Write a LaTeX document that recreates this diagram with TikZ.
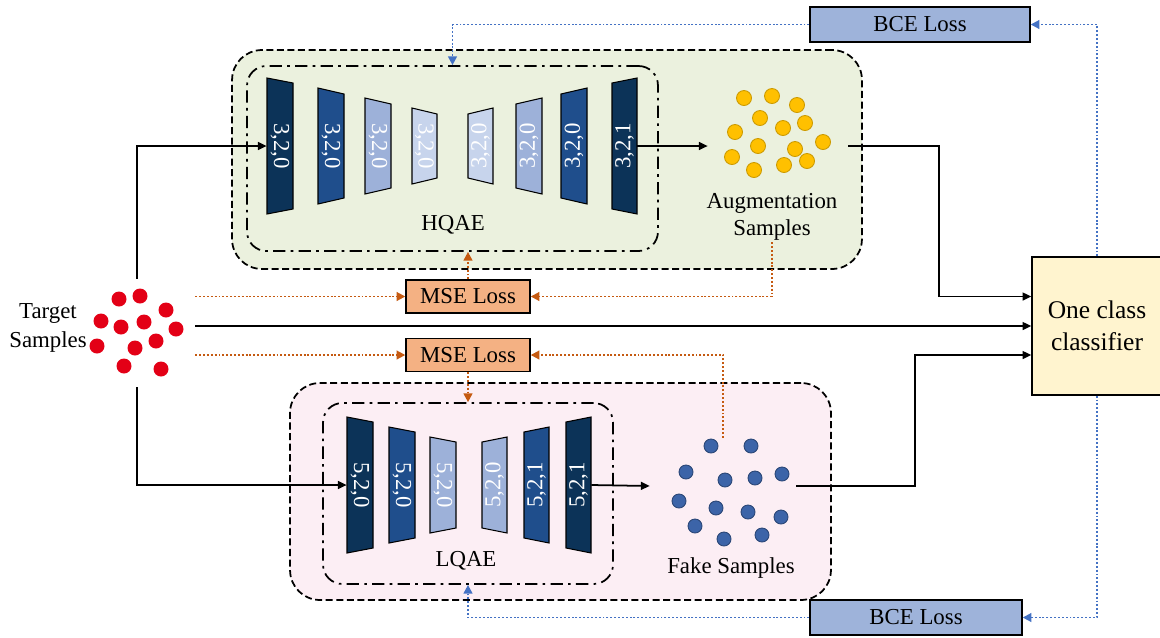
\documentclass[tikz,border=0pt]{standalone}
\usepackage{fontspec}
\setmainfont{Liberation Serif}
\usetikzlibrary{arrows.meta}

\definecolor{navy}{HTML}{0C3358}
\definecolor{midblue}{HTML}{1F4E8C}
\definecolor{lightblue}{HTML}{9DB1D9}
\definecolor{paleblue}{HTML}{C7D4EC}
\definecolor{greenbg}{HTML}{EBF1DE}
\definecolor{pinkbg}{HTML}{FCEEF4}
\definecolor{mseorange}{HTML}{F4B183}
\definecolor{bceblue}{HTML}{9EB3DA}
\definecolor{occyellow}{HTML}{FFF4CF}
\definecolor{lossorange}{HTML}{C55A11}
\definecolor{lossblue}{HTML}{4472C4}
\definecolor{tgtred}{HTML}{E30016}
\definecolor{auggold}{HTML}{FFC000}
\definecolor{fakeblue}{HTML}{3C64A8}

% name, x left, x right, y mid, half height left, half height right, colour, text, angle
\newcommand{\layer}[9]{%
  \fill[#7,draw=black,line width=0.6pt] (#2,#4-#5) -- (#3,#4-#6) -- (#3,#4+#6) -- (#2,#4+#5) -- cycle;
  \node[inner sep=0,minimum width={(#3-#2)*0.02cm},text=white] (#1) at ({(#2+#3)/2},#4) {\rotatebox{#9}{#8}};
}

\begin{document}
\begin{tikzpicture}[x=0.02cm,y=-0.02cm,
  every node/.style={font=\fontsize{13}{16}\selectfont},
  stage/.style={draw,dash pattern=on 4pt off 2pt,rounded corners=17pt,line width=1pt,inner sep=0},
  inner/.style={draw,dash pattern=on 7pt off 3pt on 1.5pt off 3pt,rounded corners=11pt,line width=1pt,inner sep=0},
  group/.style={inner sep=0},
  mse/.style={draw,fill=mseorange,line width=0.8pt,minimum width=2.48cm,minimum height=0.66cm,inner sep=0},
  bce/.style={draw,fill=bceblue,line width=0.8pt,minimum height=0.7cm,inner sep=0},
  flow/.style={line width=1pt,-{Triangle[length=5pt,width=4.5pt]}},
  mseflow/.style={lossorange,line width=1.1pt,dash pattern=on 1.1pt off 1.1pt,-{Triangle[length=5pt,width=5pt]}},
  bceflow/.style={lossblue,line width=1.1pt,dash pattern=on 1.1pt off 1.1pt,-{Triangle[length=5pt,width=5pt]}}
]
\useasboundingbox (0,0) rectangle (1160,637);

\node[stage,fill=greenbg,minimum width=12.6cm,minimum height=4.38cm] (hqae) at (547,159.5) {};
\node[inner,minimum width=8.22cm,minimum height=3.7cm] (hin) at (452.5,158.5) {};
\node[stage,fill=pinkbg,minimum width=10.82cm,minimum height=4.34cm] (lqae) at (560.5,491.5) {};
\node[inner,minimum width=5.8cm,minimum height=3.62cm] (lin) at (468,493.5) {};
\node (hlbl) at (453,225) {HQAE};
\node (llbl) at (466,561) {LQAE};

% HQAE
\layer{h1}{267}{293}{146}{68}{63}{navy}{3,2,0}{-90}
\layer{h2}{318}{344}{146}{58}{52}{midblue}{3,2,0}{-90}
\layer{h3}{365}{391}{146}{48}{42}{lightblue}{3,2,0}{-90}
\layer{h4}{412}{437}{146}{38}{32}{paleblue}{3,2,0}{-90}
\layer{h5}{468}{493}{146}{32}{38}{paleblue}{3,2,0}{90}
\layer{h6}{516}{542}{146}{42}{48}{lightblue}{3,2,0}{90}
\layer{h7}{561}{587}{146}{52}{58}{midblue}{3,2,0}{90}
\layer{h8}{612}{637}{146}{63}{68}{navy}{3,2,1}{90}

% LQAE
\layer{l1}{347}{373}{485}{68}{63}{navy}{5,2,0}{-90}
\layer{l2}{389}{415}{485}{58}{53}{midblue}{5,2,0}{-90}
\layer{l3}{430}{456}{485}{48}{43}{lightblue}{5,2,0}{-90}
\layer{l4}{482}{507}{485}{43}{48}{lightblue}{5,2,0}{90}
\layer{l5}{524}{549}{485}{53}{58}{midblue}{5,2,1}{90}
\layer{l6}{566}{591}{485}{63}{68}{navy}{5,2,1}{90}

% samples
\foreach \x/\y in {119/299,140/296,166/310,101/321,121/327,144/322,176/329,97/346,135/348,156/341,124/366,161/369}
  \fill[tgtred] (\x,\y) circle (7.5);
\foreach \x/\y in {744/98,772/96,797/105,760/118,783/128,805/123,735/132,758/146,795/149,823/142,732/157,754/170,784/165,807/161}
  \filldraw[fill=auggold,draw=auggold!80!black,line width=0.5pt] (\x,\y) circle (7.5);
\foreach \x/\y in {711/446,751/446,686/472,725/480,755/478,782/474,679/501,716/508,748/512,781/517,695/526,724/539,762/535}
  \filldraw[fill=fakeblue,draw=fakeblue!70!black,line width=0.5pt] (\x,\y) circle (7);

\node[group,minimum width=2.32cm,minimum height=2.16cm] (tgt) at (137,333) {};
\node[align=center] (tgtlbl) at (48,328) {Target\\[1pt]Samples};
\node[group,minimum width=2.8cm,minimum height=1.6cm] (aug) at (778,146) {};
\node[align=center,inner sep=1pt] (augtxt) at (772,217) {Augmentation\\[-1pt]Samples};
\node[group,minimum width=2.92cm,minimum height=1.92cm] (fake) at (723,486) {};
\node (fakelbl) at (731,568) {Fake Samples};

% losses and classifier
\node[mse] (mseH) at (468,296.5) {MSE Loss};
\node[mse] (mseL) at (468,355) {MSE Loss};
\node[bce,minimum width=4.4cm] (bceH) at (920,24.5) {BCE Loss};
\node[bce,minimum width=4.24cm] (bceL) at (916,617.5) {BCE Loss};
\node[draw,fill=occyellow,line width=0.8pt,minimum width=2.6cm,minimum height=2.76cm,align=center,
  font=\fontsize{14.5}{18}\selectfont] (occ) at (1097,326) {One class\\classifier};

\draw[flow] (tgt.north) |- (h1.west);
\draw[flow] (tgt.south) |- (l1.west);
\draw[flow] (tgt.east |- occ.west) -- (occ.west);
\draw[flow] (h8.east) -- (aug.west);
\draw[flow] (l6.east) -- (fake.west);
\draw[flow] (aug.east) -- ++(91,0) |- (occ.west |- mseH);
\draw[flow] (fake.east) -- ++(119,0) |- (occ.west |- mseL);

\draw[mseflow] (tgt.east |- mseH) -- (mseH.west);
\draw[mseflow] (tgt.east |- mseL) -- (mseL.west);
\draw[mseflow] (augtxt.south) |- (mseH.east);
\draw[mseflow] (fake.north) |- (mseL.east);
\draw[mseflow] (mseH.north) -- (mseH.north |- hin.south);
\draw[mseflow] (mseL.south) -- (mseL.south |- lin.north);

\draw[bceflow] (occ.north) |- (bceH.east);
\draw[bceflow] (occ.south) |- (bceL.east);
\draw[bceflow] (bceH.west) -| (hin.north);
\draw[bceflow] (bceL.west) -| (lin.south);
\end{tikzpicture}
\end{document}
